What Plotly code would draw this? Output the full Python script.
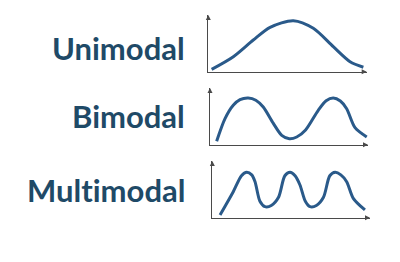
import plotly.graph_objects as go

# Labels for each panel (ZWNJ keeps "t" and "i" from forming a ligature)
labels = ["Unimodal", "Bimodal", "Mult\u200cimodal"]

# Curve points (x: 0-100 along the horizontal axis, y: 0-100 up the vertical axis)
uni_x = [2.1, 15.8, 28.4, 39.0, 53.7, 66.3, 78.9, 89.5, 97.9]
uni_y = [4.2, 26.5, 55.9, 78.3, 90.0, 76.5, 44.1, 17.6, 7.8]

bi_x = [4.2, 9.5, 14.7, 19.0, 24.2, 29.0, 33.7, 40.0, 45.4, 50.2, 54.9, 60.5, 68.5, 73.5, 78.0, 82.5, 86.5, 91.8, 99.2]
bi_y = [6.0, 45.9, 69.5, 79.5, 82.4, 78.5, 66.5, 38.0, 16.6, 10.6, 13.6, 26.0, 60.7, 77.5, 82.4, 77.0, 63.5, 30.0, 13.6]

multi_x = [4.9, 13.3, 18.5, 21.8, 25.0, 27.1, 30.2, 33.4, 37.4, 42.0, 46.0, 49.3, 52.5, 55.6, 59.0, 62.0, 66.0, 70.5,
           74.5, 77.9, 81.5, 85.2, 89.4, 96.8]
multi_y = [4.8, 45.9, 74.0, 80.1, 75.5, 63.5, 29.0, 19.4, 21.5, 36.0, 74.0, 80.1, 74.0, 57.7, 29.0, 19.4, 21.5, 36.0,
           74.0, 80.1, 75.5, 63.5, 34.2, 13.6]

series = [(uni_x, uni_y), (bi_x, bi_y), (multi_x, multi_y)]

W, H = 400, 262
# panel pixel boxes: (x origin, x end, y origin (bottom), y top)
panels = [(208.3, 366.7, 71.7, 15.0), (210.0, 368.0, 144.7, 88.0), (212.3, 370.0, 217.7, 161.0)]
label_y = [47.5, 115.5, 190.0]

curve_color = "#2a5a8a"
text_color = "#1f4a67"
axis_color = "#4a4a4a"

fig = go.Figure()
annotations = []
for i, ((xs, ys), (x0, x1, yb, yt)) in enumerate(zip(series, panels)):
    n = "" if i == 0 else str(i + 1)
    xa, ya = "xaxis" + n, "yaxis" + n
    fig.add_trace(go.Scatter(x=xs, y=ys, mode="lines", line=dict(color=curve_color, width=3, shape="spline", smoothing=0.8),
                             xaxis="x" + n, yaxis="y" + n, hoverinfo="skip", showlegend=False, cliponaxis=False))
    fig.update_layout(**{
        xa: dict(domain=[x0 / W, x1 / W], range=[0, 100], showline=True, linecolor=axis_color, linewidth=1,
                 showgrid=False, zeroline=False, showticklabels=False, ticks="", anchor="y" + n, fixedrange=True),
        ya: dict(domain=[(H - yb) / H, (H - yt) / H], range=[0, 100], showline=True, linecolor=axis_color, linewidth=1,
                 showgrid=False, zeroline=False, showticklabels=False, ticks="", anchor="x" + n, fixedrange=True),
    })
    # arrowheads at axis tips
    annotations.append(dict(x=100, y=0, ax=97, ay=0, xref="x" + n, yref="y" + n, axref="x" + n, ayref="y" + n,
                            showarrow=True, arrowhead=2, arrowsize=1, arrowwidth=1, arrowcolor=axis_color, text=""))
    annotations.append(dict(x=0, y=100, ax=0, ay=94, xref="x" + n, yref="y" + n, axref="x" + n, ayref="y" + n,
                            showarrow=True, arrowhead=2, arrowsize=1, arrowwidth=1, arrowcolor=axis_color, text=""))
    annotations.append(dict(x=187 / W, y=(H - label_y[i]) / H, xref="paper", yref="paper", xanchor="right",
                            yanchor="middle", showarrow=False, text="<b>" + labels[i] + "</b>",
                            font=dict(family="Lato", size=31, color=text_color)))

fig.update_layout(width=W, height=H, margin=dict(l=0, r=0, t=0, b=0), paper_bgcolor="white", plot_bgcolor="white",
                  annotations=annotations)
fig.write_html("out.html")
